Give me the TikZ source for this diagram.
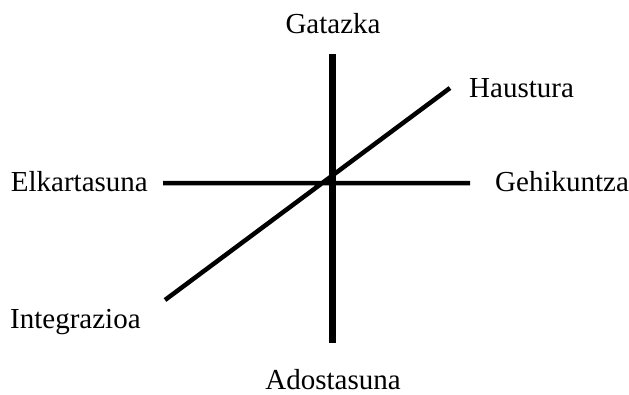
\documentclass[tikz,border=0pt]{standalone}
\usepackage{fontspec}
\setmainfont{Liberation Serif}

\begin{document}
\begin{tikzpicture}[x=1pt,y=-1pt,
    axislabel/.style={font=\fontsize{29}{34}\selectfont, inner sep=0pt}]
    \useasboundingbox (0,0) rectangle (629,394);

    \coordinate (top) at (332.5,54);
    \coordinate (bottom) at (332.5,343);
    \coordinate (left) at (163,183);
    \coordinate (right) at (470,183);
    \coordinate (low) at (165,300);
    \coordinate (high) at (450,88);

    \draw [line width=6.5pt]
        (top) -- (bottom)
        ;
    \draw [line width=4.5pt]
        (left) -- (right)
        (low) -- (high)
        ;

    \node [axislabel, anchor=base] (gatazka) at (333,33) {Gatazka};
    \node [axislabel, anchor=base] (adostasuna) at (333,389) {Adostasuna};
    \node [axislabel, anchor=base east] (elkartasuna) at (148,191) {Elkartasuna};
    \node [axislabel, anchor=base west] (gehikuntza) at (495,191) {Gehikuntza};
    \node [axislabel, anchor=base west] (haustura) at (469,97) {Haustura};
    \node [axislabel, anchor=base west] (integrazioa) at (10,328) {Integrazioa};
\end{tikzpicture}
\end{document}
